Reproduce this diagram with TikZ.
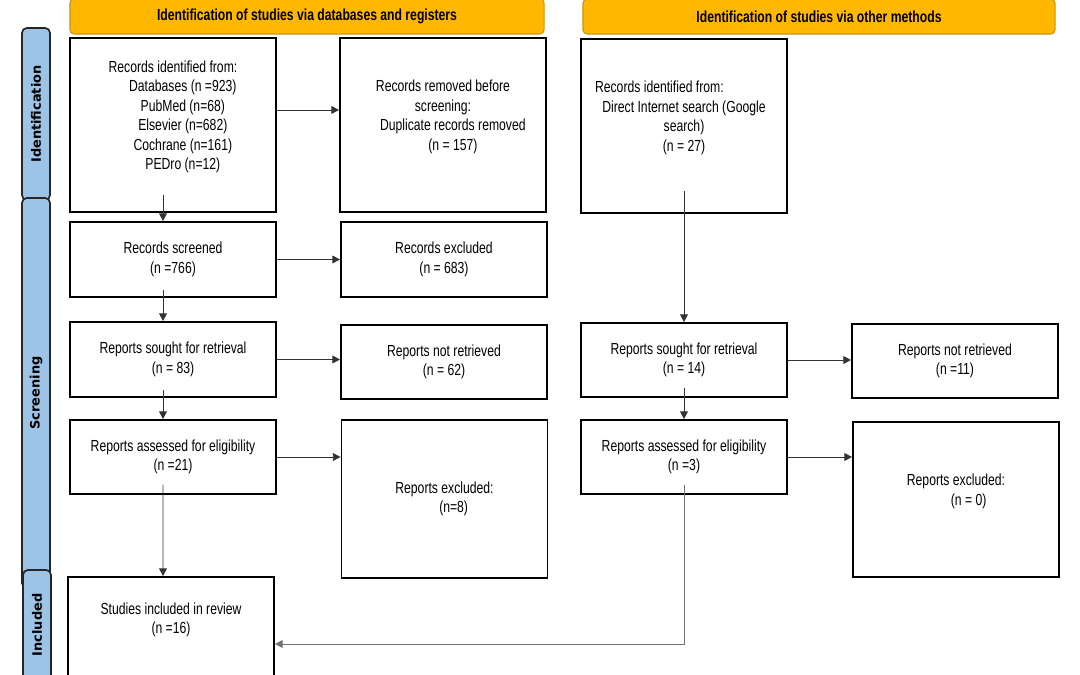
\documentclass[tikz,border=0pt]{standalone}
\usepackage{fontspec}
\setmainfont{Liberation Sans}[FakeStretch=0.76]
\newfontfamily\phasefont{DejaVu Sans}
\usepackage{xcolor}
\usepackage{tikz}
\usetikzlibrary{arrows.meta, positioning, calc}
\definecolor{hdrgold}{RGB}{255,183,0}
\definecolor{hdrline}{RGB}{196,150,20}
\definecolor{phaseblue}{RGB}{157,195,230}

\begin{document}
\begin{tikzpicture}[x=0.025cm, y=-0.025cm]
    \tikzstyle{header} = [rectangle, rounded corners=3pt, minimum height=0.875cm, text centered, draw=hdrline, line width=0.8pt, fill=hdrgold, font=\fontsize{11.4}{13.8}\selectfont\bfseries]
    \tikzstyle{phase} = [rectangle, rounded corners=3.5pt, rotate=90, minimum height=0.7cm, draw=black!85, line width=1.2pt, fill=phaseblue, font=\phasefont\fontsize{9.2}{11}\selectfont\bfseries]
    \tikzstyle{record} = [rectangle, minimum width=5.15cm, align=center, draw=black, line width=1.2pt, fill=white, font=\fontsize{11.4}{13.8}\selectfont]
    \tikzstyle{arrow} = [->, >={Triangle[length=5.5pt,width=5.5pt]}, line width=0.6pt, draw=black!80]

    \clip (0,0) rectangle (1080,675);

    % phase bars on the left
    \node (idbar) [phase, minimum width=4.3cm] at (36,114) {Identification};
    \node (scrbar) [phase, minimum width=9.75cm] at (36,393) {Screening};
    \node (incbar) [phase, minimum width=2.75cm] at (37,625) {Included};

    % column headers
    \node (dbhead) [header, minimum width=11.85cm] at (307,16.5) {Identification of studies via databases and registers};
    \node (otherhead) [header, minimum width=11.8cm] at (819,16.5) {Identification of studies via other methods};

    % databases and registers
    \node (recA) [record, minimum height=4.35cm] at (173,125) {Records identified from:\\ \hspace*{14pt}Databases (n =923)\\ \hspace*{14pt}PubMed (n=68)\\ \hspace*{14pt}Elsevier (n=682)\\ \hspace*{14pt}Cochrane (n=161)\\ \hspace*{14pt}PEDro (n=12)\\ \mbox{}};
    \node (removed) [record, minimum height=4.35cm] at (443,125) {Records removed before\\ screening:\\ \hspace*{14pt}Duplicate records removed\\ \hspace*{14pt}(n = 157)\\ \mbox{}};
    \node (scrA) [record, minimum height=1.875cm] at (173,259.5) {Records screened\\ (n =766)};
    \node (exclA) [record, minimum height=1.875cm] at (444,259.5) {Records excluded\\ (n = 683)};
    \node (soughtA) [record, minimum height=1.875cm] at (173,359.5) {Reports sought for retrieval\\ (n = 83)};
    \node (notretA) [record, minimum height=1.85cm] at (444,362) {Reports not retrieved\\ (n = 62)};
    \node (assessA) [record, minimum height=1.85cm] at (173,457) {Reports assessed for eligibility\\ (n =21)};
    \node (rexclA) [record, minimum height=3.95cm] at (444.5,499) {Reports excluded:\\ \hspace*{13pt}(n=8)};
    \node (incl) [record, minimum height=3.35cm] at (171,644) {Studies included in review\\ (n =16)\\[23pt] \mbox{}};

    % other methods
    \node (recC) [record, minimum height=4.35cm] at (684,126) {Records identified from:\hspace*{35pt}\\ Direct Internet search (Google\\ search)\\ (n = 27)\\ \mbox{}};
    \node (soughtC) [record, minimum height=1.85cm] at (684,360) {Reports sought for retrieval\\ (n = 14)};
    \node (notretC) [record, minimum height=1.85cm] at (955,361) {Reports not retrieved\\ (n =11)};
    \node (assessC) [record, minimum height=1.85cm] at (684,457) {Reports assessed for eligibility\\ (n =3)};
    \node (rexclC) [record, minimum height=3.875cm] at (956,499.5) {Reports excluded:\\ \hspace*{18pt}(n = 0)\\ \mbox{}};

    \draw [arrow] ([yshift=0.375cm]recA.east) -- ([yshift=0.375cm]removed.west);
    \draw [arrow] ([shift={(-0.25cm,0.45cm)}]recA.south) -- ([xshift=-0.25cm]scrA.north);
    \draw [arrow] (scrA) -- (exclA);
    \draw [arrow] ([shift={(-0.25cm,0.2cm)}]scrA.south) -- ([xshift=-0.25cm]soughtA.north);
    \draw [arrow] (soughtA.east) -- (soughtA.east -| notretA.west);
    \draw [arrow] ([shift={(-0.25cm,0.2cm)}]soughtA.south) -- ([xshift=-0.25cm]assessA.north);
    \draw [arrow] (assessA.east) -- (assessA.east -| rexclA.west);
    \draw [arrow] ([shift={(-0.25cm,0.25cm)}]assessA.south) -- ([xshift=-0.2cm]incl.north);

    \draw [arrow] ([yshift=0.575cm]recC.south) -- (soughtC.north);
    \draw [arrow] (soughtC.east) -- (soughtC.east -| notretC.west);
    \draw [arrow] ([yshift=0.25cm]soughtC.south) -- (assessC.north);
    \draw [arrow] (assessC.east) -- (assessC.east -| rexclC.west);
    \draw [arrow, draw=black!55] ([yshift=0.25cm]assessC.south) |- (incl.east);
\end{tikzpicture}
\end{document}
